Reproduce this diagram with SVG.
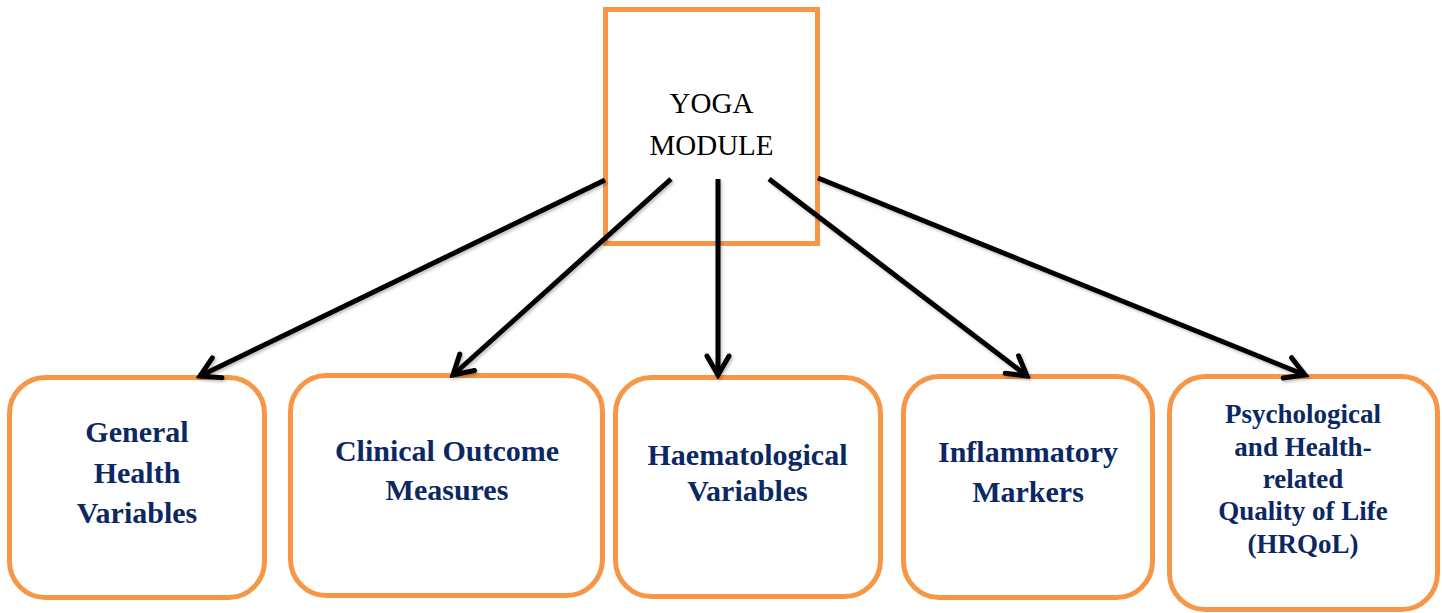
<svg xmlns="http://www.w3.org/2000/svg" width="1442" height="613" viewBox="0 0 1442 613">
  <style>
    .box { fill: #ffffff; stroke: #F79646; stroke-width: 5; }
    .title { font-family: "Liberation Serif", "Times New Roman", serif; font-size: 29px; fill: #000000; text-anchor: middle; }
    .label { font-family: "Liberation Serif", "Times New Roman", serif; font-weight: bold; font-size: 30px; fill: #0B2863; text-anchor: middle; }
    .label.small { font-size: 27px; }
    .link { fill: none; stroke: #000000; stroke-width: 5; marker-end: url(#chevron); }
  </style>
  <defs>
    <marker id="chevron" viewBox="-26 -16 30 32" markerWidth="30" markerHeight="32" refX="0" refY="0" orient="auto" markerUnits="userSpaceOnUse">
      <path d="M-19,-11 L0,0 L-19,11" fill="none" stroke="#000000" stroke-width="5" stroke-linejoin="miter" stroke-linecap="round"/>
    </marker>
    <filter id="soft-shadow" x="-10%" y="-10%" width="120%" height="120%">
      <feDropShadow dx="1.5" dy="2" stdDeviation="1.5" flood-color="#000000" flood-opacity="0.25"/>
    </filter>
  </defs>
  <rect width="1442" height="613" fill="#ffffff"/>

  <g id="yoga-module">
    <rect class="box" x="605.5" y="9.5" width="212" height="234"/>
    <text class="title" x="711.5" y="113">YOGA</text>
    <text class="title" x="711.5" y="155">MODULE</text>
  </g>

  <g id="general-health">
    <rect class="box" x="9.5" y="377.5" width="255" height="220" rx="36"/>
    <text class="label" x="137" y="442">General</text>
    <text class="label" x="137" y="483">Health</text>
    <text class="label" x="137" y="523">Variables</text>
  </g>

  <g id="clinical-outcome">
    <rect class="box" x="290.5" y="375.5" width="312" height="220" rx="36"/>
    <text class="label" x="447" y="461">Clinical Outcome</text>
    <text class="label" x="447" y="500">Measures</text>
  </g>

  <g id="haematological">
    <rect class="box" x="615.5" y="377.5" width="265" height="219" rx="36"/>
    <text class="label" x="747.5" y="465">Haematological</text>
    <text class="label" x="747.5" y="501">Variables</text>
  </g>

  <g id="inflammatory">
    <rect class="box" x="903.5" y="376.5" width="249" height="221" rx="36"/>
    <text class="label" x="1028" y="462">Inflammatory</text>
    <text class="label" x="1028" y="502">Markers</text>
  </g>

  <g id="hrqol">
    <rect class="box" x="1169.5" y="376.5" width="268" height="233" rx="36"/>
    <text class="label small" x="1303" y="423">Psychological</text>
    <text class="label small" x="1303" y="456">and Health-</text>
    <text class="label small" x="1303" y="488">related</text>
    <text class="label small" x="1303" y="520">Quality of Life</text>
    <text class="label small" x="1303" y="553">(HRQoL)</text>
  </g>

  <g id="connectors" filter="url(#soft-shadow)">
    <line class="link" x1="605" y1="180" x2="200" y2="376"/>
    <line class="link" x1="671" y1="179" x2="453" y2="375"/>
    <line class="link" x1="718" y1="179" x2="718" y2="375"/>
    <line class="link" x1="769" y1="179" x2="1027" y2="376"/>
    <line class="link" x1="818" y1="178" x2="1305" y2="375"/>
  </g>
</svg>
